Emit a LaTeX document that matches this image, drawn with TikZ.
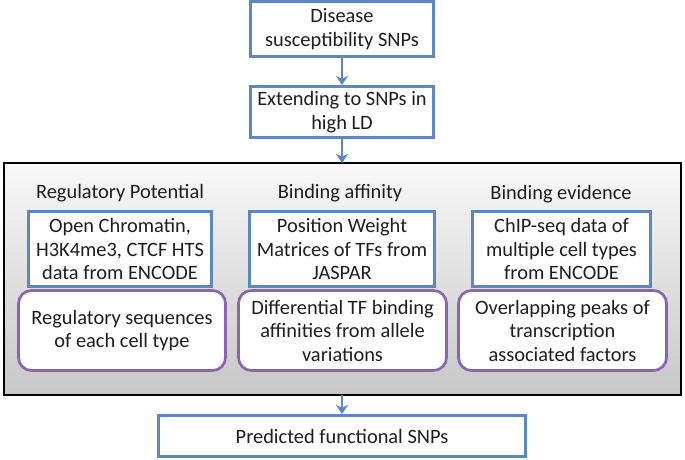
\documentclass[tikz,border=0pt]{standalone}
\usepackage{fontspec}
\setmainfont{Carlito}
\usetikzlibrary{arrows.meta,shadows}
\definecolor{boxblue}{HTML}{5B87C5}
\definecolor{boxpurple}{HTML}{8B65B0}
\definecolor{txt}{HTML}{1E1E1E}
\tikzset{
  txtstyle/.style={font=\fontsize{20.4}{23.5}\selectfont, text=txt, align=center, inner sep=0pt},
  bluebox/.style={txtstyle, draw=boxblue, line width=2.9pt, fill=white},
  purplebox/.style={txtstyle, draw=boxpurple, line width=2.7pt, fill=white, rounded corners=13pt},
  title/.style={txtstyle},
  flow/.style={draw=boxblue, line width=2.6pt, -{Stealth[length=9pt,width=12pt,inset=2.5pt]}},
}
\begin{document}
\begin{tikzpicture}[x=1pt,y=-1pt]
\useasboundingbox (0,0) rectangle (685,460);
% group panel
\path[draw=black, line width=1.6pt, top color=white!95!gray, bottom color=black!22!white, drop shadow={shadow xshift=1pt, shadow yshift=-1pt, opacity=0.6}]
  (4,163) rectangle (681,395);
\node[bluebox, minimum width=183pt, minimum height=55pt] (b1) at (342,29) {Disease\\susceptibility SNPs};
\node[bluebox, minimum width=183pt, minimum height=51pt] (b2) at (342,112) {Extending to SNPs in\\high LD};
\coordinate (gtop) at (342,163);
\coordinate (gbot) at (342,395);
\node[title] (t1) at (120,193) {Regulatory Potential};
\node[title] (t2) at (340,193) {Binding affinity};
\node[title] (t3) at (561,194) {Binding evidence};
\node[purplebox, minimum width=207pt, minimum height=80pt] (p1) at (122,330.5) {Regulatory sequences\\of each cell type};
\node[purplebox, minimum width=208pt, minimum height=80pt] (p2) at (342.5,330.5) {Differential TF binding\\affinities from allele\\variations};
\node[purplebox, minimum width=208pt, minimum height=80pt] (p3) at (562.5,330.5) {Overlapping peaks of\\transcription\\associated factors};
\node[bluebox, minimum width=183pt, minimum height=75pt] (u1) at (120,249) {Open Chromatin,\\H3K4me3, CTCF HTS\\data from ENCODE};
\node[bluebox, minimum width=185pt, minimum height=75pt] (u2) at (342,249) {Position Weight\\Matrices of TFs from\\JASPAR};
\node[bluebox, minimum width=178pt, minimum height=75pt] (u3) at (561.5,249) {ChIP-seq data of\\multiple cell types\\from ENCODE};
\node[bluebox, minimum width=367pt, minimum height=41pt] (f) at (342,436) {Predicted functional SNPs};
\draw[flow] (b1) -- (b2);
\draw[flow] (b2) -- (gtop);
\draw[flow] (gbot) -- (f);
\end{tikzpicture}
\end{document}
